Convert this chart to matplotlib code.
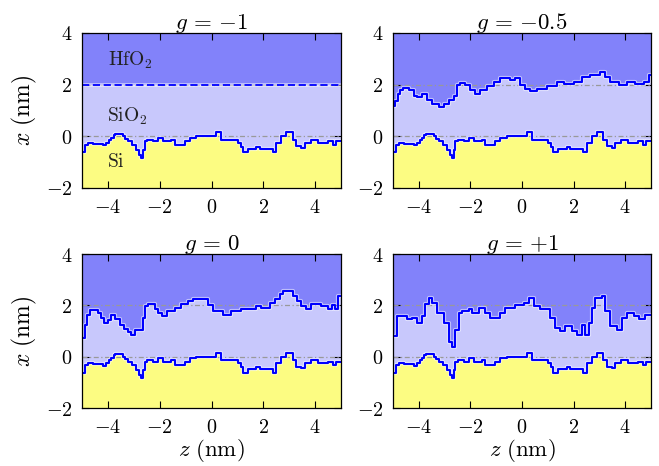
import numpy as np
import matplotlib
matplotlib.use('Agg')
import matplotlib.pyplot as plt

plt.rcParams['mathtext.fontset'] = 'cm'
plt.rcParams['font.family'] = 'serif'
plt.rcParams['font.serif'] = ['DejaVu Serif']

titles = [r'$g\,=\,{-1}$', r'$g\,=\,{-0.5}$', r'$g\,=\,0$', r'$g\,=\,{+1}$']
xticks = [-4, -2, 0, 2, 4]
xticklabels = [r'$-4$', r'$-2$', r'$0$', r'$2$', r'$4$']
yticks = [-2, 0, 2, 4]
yticklabels = [r'$-2$', r'$0$', r'$2$', r'$4$']
layer_names = [r'$\mathrm{HfO_2}$', r'$\mathrm{SiO_2}$', r'$\mathrm{Si}$']

# Si/SiO2 interface (same in all panels): segment starts and heights
si_z = [-5.00, -4.90, -4.77, -4.58, -4.19, -4.06, -3.96, -3.87, -3.78, -3.71,
        -3.42, -3.33, -3.22, -3.07, -2.90, -2.81, -2.73, -2.64, -2.58, -2.48,
        -2.26, -2.07, -1.87, -1.55, -1.42, -1.04, -0.84, -0.59, 0.19, 0.38,
        1.02, 1.13, 1.22, 1.41, 1.73, 1.86, 2.37, 2.50, 2.70, 2.89,
        3.15, 3.28, 3.47, 3.60, 3.85, 4.11, 4.50, 4.69, 4.82]
si_x = [-0.62, -0.32, -0.26, -0.28, -0.35, -0.26, -0.13, -0.06, 0.06, 0.10,
        0.00, -0.10, -0.19, -0.32, -0.52, -0.71, -0.84, -0.52, -0.19, -0.13,
        -0.19, -0.06, -0.19, -0.13, -0.32, -0.19, -0.06, 0.00, 0.15, -0.13,
        -0.26, -0.41, -0.62, -0.49, -0.41, -0.49, -0.62, -0.26, 0.00, 0.15,
        -0.13, -0.39, -0.45, -0.26, -0.13, -0.26, -0.19, -0.32, -0.19]

# SiO2/HfO2 interface, g = -0.5
h05_z = [-5.00, -4.91, -4.82, -4.72, -4.61, -4.39, -4.20, -4.07, -3.88, -3.68,
         -3.49, -3.23, -3.04, -2.84, -2.65, -2.52, -2.39, -2.20, -2.00, -1.81,
         -1.61, -1.36, -1.10, -0.84, -0.45, -0.26, -0.06, 0.13, 0.32, 0.58,
         0.97, 1.36, 1.61, 2.00, 2.33, 2.65, 3.04, 3.23, 3.42, 3.75,
         4.07, 4.39, 4.72, 4.91]
h05_x = [1.18, 1.38, 1.64, 1.78, 1.87, 1.78, 1.58, 1.51, 1.64, 1.42,
         1.25, 1.12, 1.25, 1.42, 1.58, 1.97, 2.08, 1.97, 1.78, 1.64,
         1.78, 1.95, 2.11, 2.24, 2.17, 2.24, 1.97, 1.84, 1.74, 1.84,
         1.93, 2.11, 2.01, 2.11, 2.30, 2.39, 2.50, 2.30, 2.11, 2.00,
         2.11, 2.04, 2.11, 2.39]

# SiO2/HfO2 interface, g = 0
h0_z = [-5.00, -4.90, -4.79, -4.70, -4.38, -4.28, -4.15, -4.00, -3.87, -3.71,
        -3.55, -3.38, -3.22, -3.10, -2.94, -2.64, -2.55, -2.45, -2.19, -2.07,
        -1.91, -1.71, -1.42, -1.16, -0.91, -0.71, -0.33, -0.14, 0.06, 0.44,
        0.77, 1.15, 1.73, 1.92, 2.25, 2.44, 2.63, 2.76, 3.15, 3.31,
        3.47, 3.66, 3.85, 4.24, 4.50, 4.65, 4.76, 4.88]
h0_x = [0.72, 1.25, 1.64, 1.82, 1.71, 1.51, 1.32, 1.42, 1.62, 1.45,
        1.25, 1.08, 0.95, 0.86, 1.03, 1.51, 1.97, 2.04, 1.84, 1.71,
        1.58, 1.78, 1.91, 2.04, 2.17, 2.24, 2.24, 2.00, 1.78, 1.64,
        1.78, 1.87, 1.97, 1.91, 2.11, 2.24, 2.43, 2.57, 2.37, 2.17,
        1.97, 1.84, 2.04, 1.97, 1.87, 2.00, 1.87, 2.37]

# SiO2/HfO2 interface, g = +1
h1_z = [-5.00, -4.84, -4.46, -4.26, -4.07, -3.88, -3.75, -3.62, -3.49, -3.29,
        -3.04, -2.84, -2.71, -2.58, -2.45, -2.33, -2.07, -1.94, -1.68, -1.42,
        -1.23, -0.84, -0.65, -0.26, 0.06, 0.26, 0.45, 0.71, 1.10, 1.29,
        1.49, 1.68, 1.94, 2.13, 2.33, 2.45, 2.58, 2.71, 2.84, 3.10,
        3.23, 3.42, 3.68, 3.88, 4.07, 4.33, 4.52, 4.78]
h1_x = [0.79, 1.58, 1.45, 1.51, 1.32, 1.58, 2.04, 2.30, 2.11, 1.71,
        1.32, 0.59, 0.39, 1.05, 1.71, 1.78, 1.84, 1.71, 1.91, 1.71,
        1.51, 1.71, 1.91, 2.00, 2.11, 2.30, 1.97, 1.84, 1.51, 1.12,
        0.99, 1.18, 0.99, 0.86, 1.25, 0.86, 1.32, 1.91, 2.30, 2.37,
        1.78, 1.18, 1.05, 1.51, 1.71, 1.58, 1.45, 1.64]

# g = -1: flat interface at x = 2
flat_z = [-5.0]
flat_x = [2.0]

tops = [(flat_z, flat_x), (h05_z, h05_x), (h0_z, h0_x), (h1_z, h1_x)]

C_HFO2 = '#8282fa'
C_SIO2 = '#c8c8fc'
C_SI = '#fcfc82'
C_LINE = '#0000ff'

def step_xy(zs, xs, zmax=5.0):
    z = np.append(np.asarray(zs, float), zmax)
    x = np.append(np.asarray(xs, float), xs[-1])
    return z, x

fig = plt.figure(figsize=(6.59, 4.66), dpi=100)
W, H = 659.0, 466.0
boxes = [(82, 33, 259, 155), (393, 33, 258, 155),
         (82, 254, 259, 154), (393, 254, 258, 154)]

for i, (bx, by, bw, bh) in enumerate(boxes):
    ax = fig.add_axes([bx / W, 1 - (by + bh) / H, bw / W, bh / H])
    ax.set_xlim(-5, 5)
    ax.set_ylim(-2, 4)
    ax.set_facecolor(C_HFO2)
    tz, tx = step_xy(*tops[i])
    bz, bxv = step_xy(si_z, si_x)
    ax.fill_between(tz, tx, -2, step='post', color=C_SIO2, lw=0)
    ax.fill_between(bz, bxv, -2, step='post', color=C_SI, lw=0)
    for yref in (0, 2):
        ax.axhline(yref, color='#999999', lw=0.9, ls=(0, (4, 2, 1, 2)), zorder=3)
    # lines with light halo
    if i == 0:
        ax.plot(tz, tx, drawstyle='steps-post', color='white', lw=2.8, alpha=0.5, zorder=4)
        ax.plot(tz, tx, drawstyle='steps-post', color=C_LINE, lw=1.3, ls=(0, (4, 2)), zorder=5)
    else:
        ax.plot(tz, tx, drawstyle='steps-post', color='white', lw=3.0, alpha=0.55, zorder=4)
        ax.plot(tz, tx, drawstyle='steps-post', color=C_LINE, lw=1.5, zorder=5)
    ax.plot(bz, bxv, drawstyle='steps-post', color='white', lw=3.0, alpha=0.55, zorder=4)
    ax.plot(bz, bxv, drawstyle='steps-post', color=C_LINE, lw=1.5, zorder=5)

    ax.set_xticks(xticks)
    ax.set_yticks(yticks)
    ax.set_yticklabels(yticklabels, fontsize=14.5)
    ax.set_xticklabels(xticklabels, fontsize=14.5)
    if i >= 2:
        ax.set_xlabel(r'$z\ \mathrm{(nm)}$', fontsize=16.5, labelpad=0)
    if i % 2 == 0:
        ax.set_ylabel(r'$x\ \mathrm{(nm)}$', fontsize=17, labelpad=5)
    ax.tick_params(direction='in', top=True, right=True, length=5, width=0.8)
    ax.tick_params(axis='x', pad=7)
    ax.tick_params(axis='y', pad=7)
    ax.set_title(titles[i], fontsize=16.5, pad=3)
    for s in ax.spines.values():
        s.set_linewidth(0.9)
        s.set_zorder(6)
    if i == 0:
        ax.text(-4.0, 2.96, layer_names[0], fontsize=14, va='center', ha='left', color='#222222')
        ax.text(-4.03, 0.79, layer_names[1], fontsize=14, va='center', ha='left', color='#222222')
        ax.text(-4.03, -0.98, layer_names[2], fontsize=14, va='center', ha='left', color='#222222')

fig.savefig('out.png', dpi=100)
